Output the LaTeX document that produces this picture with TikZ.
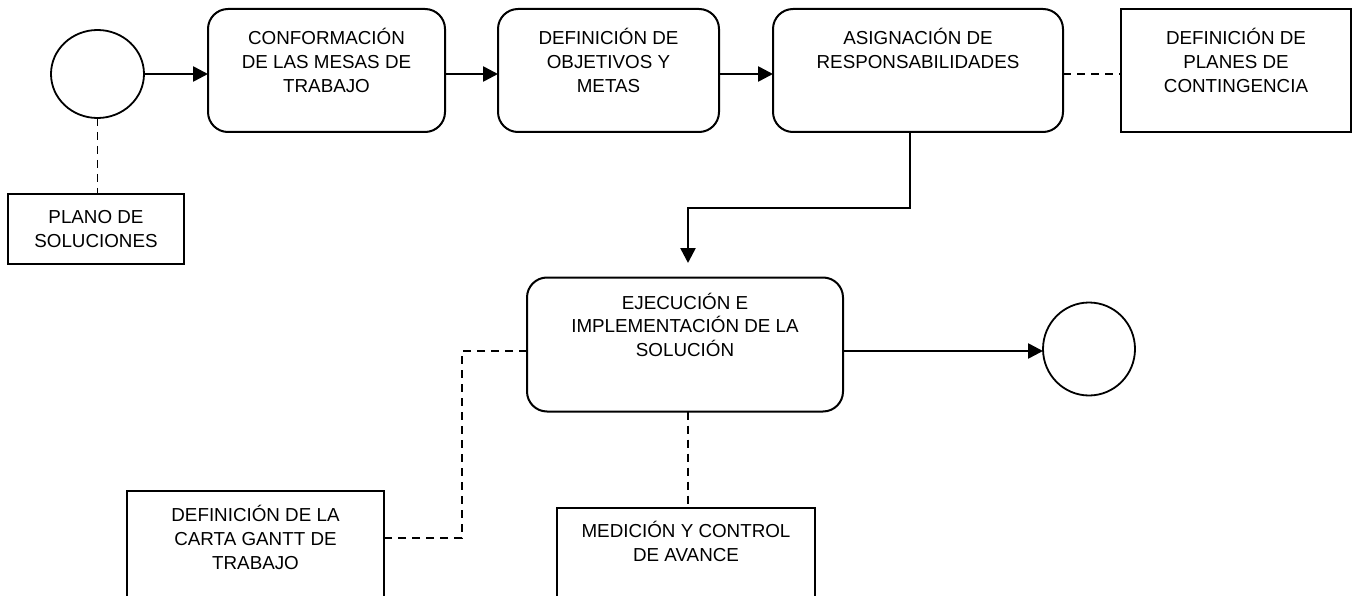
\documentclass[tikz,border=0pt]{standalone}
\usepackage{fontspec}
\setmainfont{Liberation Sans}
\usetikzlibrary{arrows.meta,shapes.geometric}
\newcommand{\bt}[4]{\parbox[c][#2pt][t]{#1pt}{\centering\fontsize{18.8}{23.8}\selectfont\vspace*{#3pt}\rule{0pt}{18pt}#4}}
\begin{document}
\begin{tikzpicture}[x=1pt,y=-1pt,
  every node/.style={inner sep=0pt, outer sep=0pt},
  rbox/.style={draw, line width=2pt, rounded corners=20pt, rectangle},
  sbox/.style={draw, line width=2pt, rectangle},
  ell/.style={draw, line width=1.8pt, ellipse, minimum width=93pt, minimum height=88pt},
  flow/.style={line width=2.6pt, -{Triangle[length=15pt,width=15pt]}},
  assoc/.style={line width=1.8pt, dash pattern=on 8pt off 6pt},
]
\useasboundingbox (0,0) rectangle (1356,596);
\fill[white] (0,0) rectangle (1356,596);

\node[ell] (c1) at (97.5,74) {};
\node[rbox] (b1) at (326.5,70.5) {\bt{237}{123}{17.5}{CONFORMACIÓN\\DE LAS MESAS DE\\TRABAJO}};
\node[rbox] (b2) at (608.5,70.5) {\bt{221}{123}{17.5}{DEFINICIÓN DE\\OBJETIVOS Y\\METAS}};
\node[rbox] (b3) at (918,70.5) {\bt{290}{123}{17.5}{ASIGNACIÓN DE\\RESPONSABILIDADES}};
\node[sbox] (b4) at (1236,70.5) {\bt{230}{123}{17.5}{DEFINICIÓN DE\\PLANES DE\\CONTINGENCIA}};
\node[sbox] (p1) at (96,229) {\bt{176}{70}{11.5}{PLANO DE\\SOLUCIONES}};
\node[rbox] (b5) at (685,344.5) {\bt{316}{134}{13.5}{EJECUCIÓN E\\IMPLEMENTACIÓN DE LA\\SOLUCIÓN}};
\node[ell, minimum width=92pt, minimum height=93pt] (c2) at (1089,349) {};
\node[sbox] (b6) at (255.5,556) {\bt{257}{130}{12.5}{DEFINICIÓN DE LA\\CARTA GANTT DE\\TRABAJO}};
\node[sbox] (b7) at (686,569) {\bt{258}{122}{11.5}{MEDICIÓN Y CONTROL\\DE AVANCE}};

\coordinate (k) at (688,208);
\coordinate (g1) at (462,351);
\coordinate (g2) at (462,538);

\draw[flow] (c1.east) -- (c1.east -| b1.west);
\draw[flow] ([yshift=-3.5pt]b1.east) -- ([yshift=-3.5pt]b2.west);
\draw[flow] ([yshift=-3.5pt]b2.east) -- ([yshift=-3.5pt]b3.west);
\draw[assoc] ([yshift=-3.5pt]b3.east) -- ([yshift=-3.5pt]b4.west);
\draw[assoc] (c1.south) -- (c1.south |- p1.north);
\draw[flow] ([xshift=-8pt]b3.south) |- (k) -- ++(0,55);
\draw[flow] ([yshift=-6.5pt]b5.east) -- ([yshift=-6.5pt]b5.east -| c2.west);
\draw[assoc] ([yshift=-6.5pt]b5.west) -- (g1) -- (g2) -- (g2 -| b6.east);
\draw[assoc] ([xshift=3pt]b5.south) -- ([xshift=3pt]b5.south |- b7.north);
\end{tikzpicture}
\end{document}
